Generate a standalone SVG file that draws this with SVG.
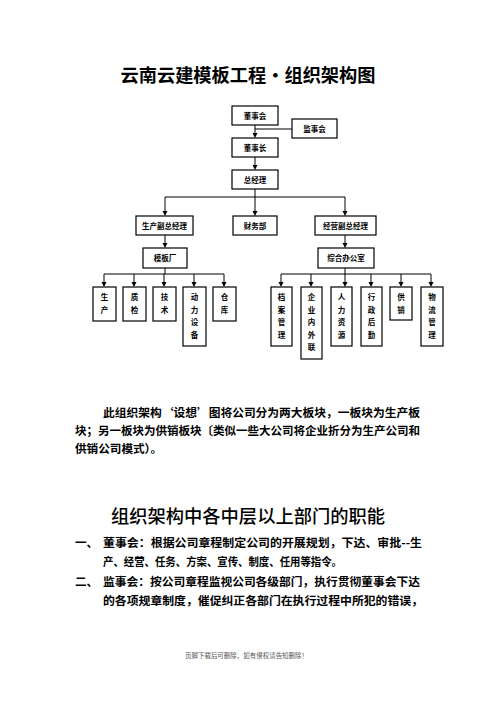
<svg xmlns="http://www.w3.org/2000/svg" width="496" height="702" viewBox="0 0 496 702">
<style>
.box{fill:#fff;stroke:#000;stroke-width:1.2}
.bt{font-family:"Noto Sans CJK SC","Liberation Sans",sans-serif;font-size:7.5px;font-weight:bold;text-anchor:middle;fill:#000}
.ln{fill:none;stroke:#000;stroke-width:1}
.body{font-family:"Noto Sans CJK SC",sans-serif;font-size:11.6px;font-weight:bold;fill:#000}
.h{font-family:"Noto Sans CJK SC",sans-serif;fill:#000}
</style>
<text class="h" x="248" y="82" font-size="18" font-weight="bold" text-anchor="middle" textLength="255" lengthAdjust="spacingAndGlyphs">云南云建模板工程・组织架构图</text>

<g id="connectors">
<path class="ln" d="M255,125 V133" /><path d="M252.5,133 H257.5 L255,138 Z"/>
<path class="ln" d="M292,129 H255"/>
<path class="ln" d="M255,157 V165"/><path d="M252.5,165 H257.5 L255,170 Z"/>
<path class="ln" d="M255,189 V197 M165,197 H345 M165,197 V211 M255,197 V211 M345,197 V211"/>
<path d="M162.5,211 H167.5 L165,216 Z M252.5,211 H257.5 L255,216 Z M342.5,211 H347.5 L345,216 Z"/>
<path class="ln" d="M165,235 V243 M345,235 V243"/>
<path d="M162.5,243 H167.5 L165,248 Z M342.5,243 H347.5 L345,248 Z"/>
<path class="ln" d="M165,268 V274 M104,274 H224 M104,274 V282 M134,274 V282 M164,274 V282 M194,274 V282 M224,274 V282"/>
<path d="M101.5,282 H106.5 L104,287 Z M131.5,282 H136.5 L134,287 Z M161.5,282 H166.5 L164,287 Z M191.5,282 H196.5 L194,287 Z M221.5,282 H226.5 L224,287 Z"/>
<path class="ln" d="M345,268 V274 M281,274 H431 M281,274 V282 M311,274 V282 M345,274 V282 M371,274 V282 M401,274 V282 M431,274 V282"/>
<path d="M278.5,282 H283.5 L281,287 Z M308.5,282 H313.5 L311,287 Z M342.5,282 H347.5 L345,287 Z M368.5,282 H373.5 L371,287 Z M398.5,282 H403.5 L401,287 Z M428.5,282 H433.5 L431,287 Z"/>
</g>

<g id="dongshihui"><rect class="box" x="232" y="106" width="46" height="19"/><text class="bt" x="255" y="118.5">董事会</text></g>
<g id="jianshihui"><rect class="box" x="292" y="119" width="45" height="19"/><text class="bt" x="314.5" y="131.5">监事会</text></g>
<g id="dongshizhang"><rect class="box" x="232" y="138" width="46" height="19"/><text class="bt" x="255" y="150.5">董事长</text></g>
<g id="zongjingli"><rect class="box" x="232" y="170" width="46" height="19"/><text class="bt" x="255" y="182.5">总经理</text></g>
<g id="shengchanfu"><rect class="box" x="136" y="216" width="57" height="19"/><text class="bt" x="164.5" y="228.5">生产副总经理</text></g>
<g id="caiwubu"><rect class="box" x="233" y="216" width="44" height="19"/><text class="bt" x="255" y="228.5">财务部</text></g>
<g id="jingyingfu"><rect class="box" x="315" y="216" width="61" height="19"/><text class="bt" x="345.5" y="228.5">经营副总经理</text></g>
<g id="mubanchang"><rect class="box" x="143" y="248" width="44" height="20"/><text class="bt" x="165" y="260.5">模板厂</text></g>
<g id="zonghe"><rect class="box" x="318" y="248" width="56" height="20"/><text class="bt" x="346" y="260.5">综合办公室</text></g>

<g id="shengchan"><rect class="box" x="93" y="287" width="23" height="34"/><text class="bt" x="104.5" y="300">生</text><text class="bt" x="104.5" y="312.5">产</text></g>
<g id="zhijian"><rect class="box" x="123" y="287" width="23" height="34"/><text class="bt" x="134.5" y="300">质</text><text class="bt" x="134.5" y="312.5">检</text></g>
<g id="jishu"><rect class="box" x="153" y="287" width="23" height="34"/><text class="bt" x="164.5" y="300">技</text><text class="bt" x="164.5" y="312.5">术</text></g>
<g id="dongli"><rect class="box" x="183" y="287" width="23" height="59"/><text class="bt" x="194.5" y="300">动</text><text class="bt" x="194.5" y="312.5">力</text><text class="bt" x="194.5" y="325">设</text><text class="bt" x="194.5" y="337.5">备</text></g>
<g id="cangku"><rect class="box" x="213" y="287" width="23" height="34"/><text class="bt" x="224.5" y="300">仓</text><text class="bt" x="224.5" y="312.5">库</text></g>

<g id="dangan"><rect class="box" x="271" y="287" width="21" height="59"/><text class="bt" x="281.5" y="300">档</text><text class="bt" x="281.5" y="312.6">案</text><text class="bt" x="281.5" y="325.2">管</text><text class="bt" x="281.5" y="337.8">理</text></g>
<g id="qiye"><rect class="box" x="301" y="287" width="21" height="72"/><text class="bt" x="311.5" y="300">企</text><text class="bt" x="311.5" y="312.6">业</text><text class="bt" x="311.5" y="325.2">内</text><text class="bt" x="311.5" y="337.8">外</text><text class="bt" x="311.5" y="350.4">联</text></g>
<g id="renli"><rect class="box" x="331" y="287" width="21" height="59"/><text class="bt" x="341.5" y="300">人</text><text class="bt" x="341.5" y="312.6">力</text><text class="bt" x="341.5" y="325.2">资</text><text class="bt" x="341.5" y="337.8">源</text></g>
<g id="xingzheng"><rect class="box" x="361" y="287" width="21" height="59"/><text class="bt" x="371.5" y="300">行</text><text class="bt" x="371.5" y="312.6">政</text><text class="bt" x="371.5" y="325.2">后</text><text class="bt" x="371.5" y="337.8">勤</text></g>
<g id="gongxiao"><rect class="box" x="390" y="287" width="22" height="33"/><text class="bt" x="401" y="300">供</text><text class="bt" x="401" y="312.6">销</text></g>
<g id="wuliu"><rect class="box" x="421" y="287" width="22" height="59"/><text class="bt" x="432" y="300">物</text><text class="bt" x="432" y="312.6">流</text><text class="bt" x="432" y="325.2">管</text><text class="bt" x="432" y="337.8">理</text></g>

<text class="body" x="103" y="417" textLength="317" lengthAdjust="spacingAndGlyphs">此组织架构‘设想’图将公司分为两大板块，一板块为生产板</text>
<text class="body" x="75" y="435" textLength="345" lengthAdjust="spacingAndGlyphs">块；另一板块为供销板块〔类似一些大公司将企业折分为生产公司和</text>
<text class="body" x="75" y="452.5" textLength="87" lengthAdjust="spacingAndGlyphs">供销公司模式）。</text>

<text class="h" x="111" y="523" font-size="18" font-weight="500" textLength="274" lengthAdjust="spacingAndGlyphs">组织架构中各中层以上部门的职能</text>

<text class="body" x="75" y="546.5">一、</text>
<text class="body" x="103" y="546.5" textLength="319" lengthAdjust="spacingAndGlyphs">董事会：根据公司章程制定公司的开展规划，下达、审批--生</text>
<text class="body" x="103" y="565.5" textLength="239" lengthAdjust="spacingAndGlyphs">产、经营、任务、方案、宣传、制度、任用等指令。</text>
<text class="body" x="75" y="585.5">二、</text>
<text class="body" x="103" y="585.5" textLength="317" lengthAdjust="spacingAndGlyphs">监事会：按公司章程监视公司各级部门，执行贯彻董事会下达</text>
<text class="body" x="103" y="604.5" textLength="320" lengthAdjust="spacingAndGlyphs">的各项规章制度，催促纠正各部门在执行过程中所犯的错误，</text>

<text x="185" y="657.5" font-family="Noto Sans CJK SC,sans-serif" font-size="6.5" fill="#555" textLength="123" lengthAdjust="spacingAndGlyphs">页脚下载后可删除，如有侵权请告知删除！</text>
</svg>
